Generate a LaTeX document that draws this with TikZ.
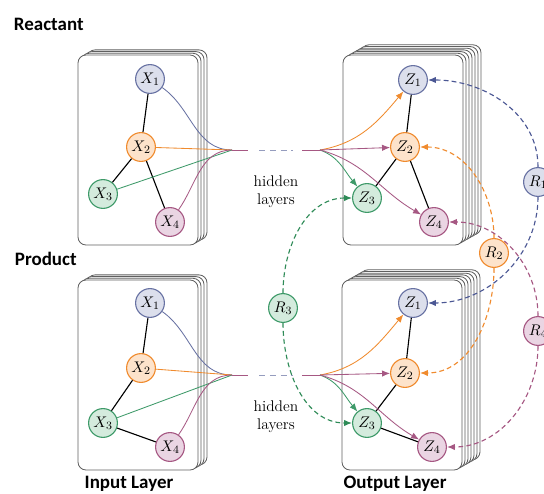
\documentclass[tikz,border=0pt]{standalone}
\usepackage{fontspec}
\newfontfamily\headfont{Carlito}
\usetikzlibrary{arrows.meta}

\definecolor{bluebg}{HTML}{DCDFEC}
\definecolor{bluedk}{HTML}{6872A3}
\definecolor{bluerel}{HTML}{4B5794}
\definecolor{orangebg}{HTML}{FDE3CB}
\definecolor{orangedk}{HTML}{F08B2E}
\definecolor{greenbg}{HTML}{D4EBDD}
\definecolor{greendk}{HTML}{3E9A69}
\definecolor{greenrel}{HTML}{2E8B57}
\definecolor{pinkbg}{HTML}{EAD5E3}
\definecolor{pinkdk}{HTML}{A65883}
\definecolor{cardln}{HTML}{606060}

% stack of cards: front corner, opposite corner, number of cards behind
\newcommand{\cardstack}[3]{%
  \foreach \k in {#3,...,1}
    \draw[card, shift={(3*\k,-1.7*\k)}] #1 rectangle #2;
  \draw[card] #1 rectangle #2;}

\begin{document}
\begin{tikzpicture}[x=0.25mm, y=-0.25mm,
    var/.style={circle, draw, line width=0.8pt, minimum size=7.2mm,
                inner sep=0pt, font=\fontsize{11}{13}\selectfont},
    vb/.style={var, draw=bluedk, fill=bluebg},
    vo/.style={var, draw=orangedk, fill=orangebg},
    vg/.style={var, draw=greendk, fill=greenbg},
    vp/.style={var, draw=pinkdk, fill=pinkbg},
    card/.style={draw=cardln, fill=white, rounded corners=2mm, line width=0.6pt},
    edge/.style={line width=0.8pt},
    feed/.style={line width=0.6pt},
    arw/.style={feed, -{Latex[length=2mm, width=1.6mm]}},
    rel/.style={dash pattern=on 1.2mm off 0.8mm, line width=0.8pt,
                -{Latex[length=2mm, width=1.6mm]}},
    lab/.style={font=\headfont\bfseries\fontsize{13.5}{15}\selectfont},
    hid/.style={font=\fontsize{11}{13}\selectfont, align=center},
]
\useasboundingbox (0,0) rectangle (544,493);
\clip (0,0) rectangle (544,493);

\node[lab, anchor=west] (reac) at (9,24) {Reactant};
\node[lab, anchor=west] (prod) at (10,259) {Product};
\node[lab] (inl) at (129,484) {Input Layer};
\node[lab] (outl) at (395,484) {Output Layer};

% card stacks
\cardstack{(78,55)}{(198,245)}{3}
\cardstack{(343,55)}{(463,245)}{6}
\cardstack{(78,280)}{(198,470)}{3}
\cardstack{(342,280)}{(462,470)}{6}

% input graphs
\node[vb] (tx1) at (150,79) {$X_1$};
\node[vo] (tx2) at (141,147) {$X_2$};
\node[vg] (tx3) at (103,194) {$X_3$};
\node[vp] (tx4) at (170,222) {$X_4$};
\node[vb] (bx1) at (150,303) {$X_1$};
\node[vo] (bx2) at (141,368) {$X_2$};
\node[vg] (bx3) at (103,423) {$X_3$};
\node[vp] (bx4) at (170,447) {$X_4$};

% output graphs
\node[vb] (tz1) at (413,80) {$Z_1$};
\node[vo] (tz2) at (405,147) {$Z_2$};
\node[vg] (tz3) at (367,198) {$Z_3$};
\node[vp] (tz4) at (434,222) {$Z_4$};
\node[vb] (bz1) at (413,303) {$Z_1$};
\node[vo] (bz2) at (405,373) {$Z_2$};
\node[vg] (bz3) at (367,423) {$Z_3$};
\node[vp] (bz4) at (432,447) {$Z_4$};

\foreach \a/\b in {tx1/tx2, tx2/tx3, tx2/tx4, bx1/bx2, bx2/bx3, bx3/bx4,
                   tz1/tz2, tz2/tz3, tz2/tz4, bz1/bz2, bz2/bz3, bz3/bz4}
    \draw[edge] (\a) -- (\b);

% hidden layers
\foreach \r/\y in {t/150, b/375} {
    \coordinate (\r in) at (232,\y);
    \coordinate (\r ha) at (248,\y);
    \coordinate (\r hb) at (259,\y);
    \coordinate (\r hc) at (293,\y);
    \coordinate (\r hd) at (302,\y);
    \coordinate (\r out) at (320,\y);
    \draw[feed, bluedk] (\r x1) to[out=-35, in=180] (\r in);
    \draw[feed, orangedk] (\r x2) -- (\r in);
    \draw[feed, greendk] (\r x3) -- (\r in);
    \draw[feed, pinkdk] (\r x4) to[out=55, in=180] (\r in);
    \draw[feed, pinkdk] (\r in) -- (\r ha);
    \draw[feed, bluedk!70, dash pattern=on 1.5mm off 1.2mm] (\r hb) -- (\r hc);
    \draw[feed, pinkdk] (\r hd) -- (\r out);
    \draw[arw, orangedk] (\r out) to[out=10, in=-130] (\r z1);
    \draw[arw, pinkdk] (\r out) -- (\r z2);
    \draw[arw, greendk] (\r out) to[out=-20, in=130] (\r z3);
    \draw[arw, pinkdk] (\r out) to[out=-15, in=150] (\r z4);
}
\node[hid] (thid) at (276,192) {hidden\\layers};
\node[hid] (bhid) at (276,417) {hidden\\layers};

% relations
\node[vb] (r1) at (538,182) {$R_1$};
\node[vo] (r2) at (494,253) {$R_2$};
\node[vg] (r3) at (283,308) {$R_3$};
\node[vp] (r4) at (538,331) {$R_4$};

\draw[rel, bluerel] (r1.north) to[out=90, in=0] (tz1.east);
\draw[rel, bluerel] (r1.south) to[out=-90, in=0] (bz1.east);
\draw[rel, orangedk] (r2.north) to[out=90, in=0] (tz2.east);
\draw[rel, orangedk] (r2.south) to[out=-90, in=0] (bz2.east);
\draw[rel, greenrel] (r3.north) to[out=90, in=180] (tz3.west);
\draw[rel, greenrel] (r3.south) to[out=-90, in=180] (bz3.west);
\draw[rel, pinkdk] (r4.north) to[out=90, in=0] (tz4.east);
\draw[rel, pinkdk] (r4.south) to[out=-90, in=0] (bz4.east);
\end{tikzpicture}
\end{document}
